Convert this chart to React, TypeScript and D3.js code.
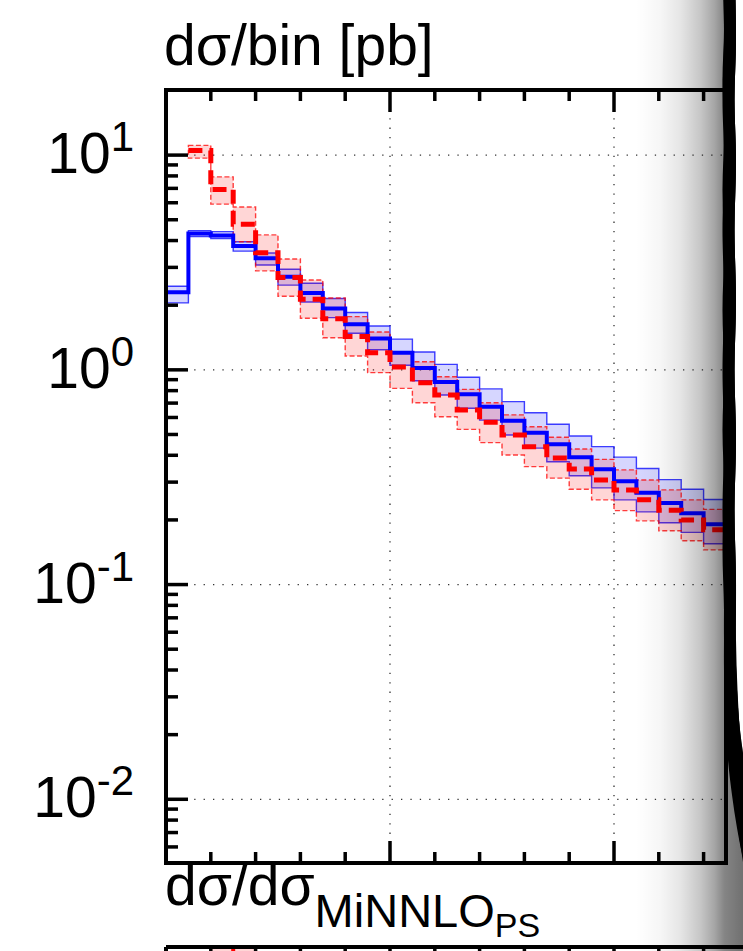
import React from 'react';
import * as d3 from 'd3';

// bin edges of the histogram (x axis units)
const binEdges = [0, 5, 10, 15, 20, 25, 30, 35, 40, 45, 50, 55, 60, 65, 70, 75, 80, 85, 90, 95, 100, 105, 110, 115, 120, 125];

// blue (MiNNLO_PS) central values and band
const blueVal = [2.30, 4.31, 4.22, 3.77, 3.31, 2.71, 2.28, 1.93, 1.63, 1.40, 1.20, 1.02, 0.877, 0.770, 0.673, 0.579, 0.509, 0.450, 0.392, 0.344, 0.303, 0.268, 0.240, 0.215, 0.191];
const blueHi = [2.45, 4.45, 4.40, 3.95, 3.50, 2.94, 2.53, 2.15, 1.85, 1.60, 1.39, 1.21, 1.06, 0.923, 0.815, 0.711, 0.631, 0.558, 0.492, 0.439, 0.392, 0.347, 0.308, 0.278, 0.249];
const blueLo = [2.05, 4.18, 4.09, 3.57, 3.08, 2.48, 2.07, 1.75, 1.48, 1.24, 1.05, 0.889, 0.764, 0.662, 0.583, 0.497, 0.432, 0.373, 0.321, 0.282, 0.248, 0.218, 0.194, 0.175, 0.155];

// red (dashed) central values and band; first bin empty
const redVal = [NaN, 10.5, 6.92, 4.77, 3.51, 2.69, 2.13, 1.73, 1.43, 1.20, 1.03, 0.871, 0.764, 0.650, 0.570, 0.497, 0.438, 0.388, 0.345, 0.307, 0.276, 0.248, 0.222, 0.200, 0.180];
const redHi = [NaN, 11.1, 7.92, 5.73, 4.25, 3.28, 2.62, 2.16, 1.77, 1.50, 1.21, 1.09, 0.929, 0.811, 0.703, 0.617, 0.543, 0.485, 0.428, 0.383, 0.342, 0.307, 0.276, 0.248, 0.224];
const redLo = [NaN, 9.68, 5.91, 3.95, 2.89, 2.20, 1.74, 1.41, 1.16, 0.97, 0.82, 0.703, 0.605, 0.528, 0.458, 0.401, 0.354, 0.313, 0.278, 0.248, 0.221, 0.198, 0.178, 0.160, 0.145];

// axes
const xDomain = [0, 125];
const yDomain = [0.00505, 20.1];
const xMajorTicks = [0, 50, 100];
const xMinorTicks = [10, 20, 30, 40, 60, 70, 80, 90, 110, 120];
const yDecades = [0.01, 0.1, 1, 10];
const yExponents = ['-2', '-1', '0', '1'];

// page-curl decoration outline
const curlLeft: [number, number][] = [[723, -20], [724, 30], [722.5, 80], [724, 130], [722.5, 190], [724, 250], [722.5, 310], [724, 370], [722.5, 430], [724, 490], [722.5, 550], [724, 610], [724, 670], [725.5, 720], [728, 760], [732, 795], [737, 828], [743, 858], [752, 890]];
const curlRight: [number, number][] = [[735, -20], [736, 40], [734.5, 100], [736, 160], [734.5, 230], [736, 300], [734.5, 370], [736, 440], [734.5, 510], [736, 580], [735.5, 640], [737, 690], [740, 730], [746, 770], [756, 810]];
const curlCenter: [number, number][] = [[729, -20], [730, 40], [728.5, 100], [730, 160], [728.5, 230], [730, 300], [728.5, 370], [730, 440], [728.5, 510], [730, 580], [730, 640], [731.5, 690], [734.5, 740], [739.5, 790], [745, 835], [752, 880]];

const FONT = "'Liberation Sans', Arial, Helvetica, sans-serif";

export default function App() {
  const W = 743, H = 951;
  const x = d3.scaleLinear().domain(xDomain).range([166, 726]);
  const y = d3.scaleLog().domain(yDomain).range([863, 90]);
  const top = y(yDomain[1]);
  const bot = y(yDomain[0]);
  const left = x(xDomain[0]);
  const right = x(xDomain[1]);

  type P = { e: number; v: number; lo: number; hi: number };
  const mk = (val: number[], lo: number[], hi: number[]): P[] => {
    const pts: P[] = [];
    val.forEach((v, i) => {
      if (!isNaN(v)) pts.push({ e: binEdges[i], v, lo: lo[i], hi: hi[i] });
    });
    const last = pts[pts.length - 1];
    const idx = binEdges.indexOf(last.e);
    pts.push({ e: binEdges[idx + 1], v: last.v, lo: last.lo, hi: last.hi });
    return pts;
  };
  const bluePts = mk(blueVal, blueLo, blueHi);
  const redPts = mk(redVal, redLo, redHi);

  const line = d3.line<P>().x(d => x(d.e)).y(d => y(d.v)).curve(d3.curveStepAfter);
  const area = d3.area<P>().x(d => x(d.e)).y0(d => y(d.lo)).y1(d => y(d.hi)).curve(d3.curveStepAfter);

  const minorY = y.ticks(40).filter(v => {
    const m = v / Math.pow(10, Math.floor(Math.log10(v) + 1e-9));
    return Math.abs(m - 1) > 1e-6 && v > yDomain[0] && v < 19;
  });

  const smooth = d3.line().curve(d3.curveCatmullRom);
  const leftPath = smooth(curlLeft) || '';
  const rightFwd = smooth(curlRight) || '';
  const rightRev = smooth(curlRight.slice().reverse()) || '';
  const curlShape = leftPath + 'L' + rightRev.slice(1) + 'Z';
  const whiteShape = rightFwd + 'L800,810L800,-20Z';
  const centerPath = smooth(curlCenter) || '';

  return (
    <svg width={W} height={H} style={{ position: 'absolute', left: 0, top: 0, background: '#fff' }} fontFamily={FONT}>
      <defs>
        <linearGradient id="curlGrad" gradientUnits="userSpaceOnUse" x1={600} y1={0} x2={743} y2={0}>
          <stop offset="0" stopColor="#000" stopOpacity={0} />
          <stop offset="0.25" stopColor="#000" stopOpacity={0} />
          <stop offset="0.42" stopColor="#000" stopOpacity={0.035} />
          <stop offset="0.56" stopColor="#000" stopOpacity={0.1} />
          <stop offset="0.70" stopColor="#000" stopOpacity={0.22} />
          <stop offset="0.80" stopColor="#000" stopOpacity={0.35} />
          <stop offset="0.87" stopColor="#000" stopOpacity={0.48} />
          <stop offset="1" stopColor="#000" stopOpacity={0.56} />
        </linearGradient>
        <clipPath id="plotClip">
          <rect x={left} y={top} width={right - left} height={bot - top} />
        </clipPath>
      </defs>
      <rect x={0} y={0} width={W} height={H} fill="#fff" />

      {/* title */}
      <text x={164} y={65} fontSize={57}>dσ/bin [pb]</text>

      {/* grid */}
      <g stroke="#333" strokeWidth={1.3} strokeDasharray="1.3,8.1">
        {yDecades.map(v => (
          <line key={'gy' + v} x1={left} x2={right} y1={y(v)} y2={y(v)} />
        ))}
        {xMajorTicks.filter(v => v > xDomain[0]).map(v => (
          <line key={'gx' + v} x1={x(v)} x2={x(v)} y1={top} y2={bot} />
        ))}
      </g>

      {/* data */}
      <g clipPath="url(#plotClip)">
        <path d={area(bluePts) || ''} fill="rgba(0,0,255,0.16)" stroke="rgba(0,0,255,0.75)" strokeWidth={1.4} />
        <path d={area(redPts) || ''} fill="rgba(255,0,0,0.16)" stroke="rgba(255,0,0,0.75)" strokeWidth={1.4} strokeDasharray="5,2.5" />
        <path d={line(bluePts) || ''} fill="none" stroke="#0000ff" strokeWidth={4} />
        <path d={line(redPts) || ''} fill="none" stroke="#ff0000" strokeWidth={5} strokeDasharray="14,7" />
      </g>

      {/* ticks */}
      <g stroke="#000" strokeWidth={3.5}>
        {yDecades.map(v => (
          <line key={'ty' + v} x1={left} x2={left + 22} y1={y(v)} y2={y(v)} />
        ))}
        {minorY.map(v => (
          <line key={'tym' + v} x1={left} x2={left + 12} y1={y(v)} y2={y(v)} />
        ))}
        {xMajorTicks.map(v => (
          <g key={'tx' + v}>
            <line x1={x(v)} x2={x(v)} y1={top} y2={top + 22} />
            <line x1={x(v)} x2={x(v)} y1={bot} y2={bot - 22} />
          </g>
        ))}
        {xMinorTicks.map(v => (
          <g key={'txm' + v}>
            <line x1={x(v)} x2={x(v)} y1={top} y2={top + 11} />
            <line x1={x(v)} x2={x(v)} y1={bot} y2={bot - 11} />
          </g>
        ))}
      </g>
      {/* frame */}
      <rect x={left} y={top} width={right - left} height={bot - top} fill="none" stroke="#000" strokeWidth={4} />

      {/* y labels */}
      {yDecades.map((v, i) => (
        <text key={'ly' + v} x={134} y={y(v) + 18} fontSize={57} textAnchor="end">
          10<tspan fontSize={42} dy={-22}>{yExponents[i]}</tspan>
        </text>
      ))}

      {/* ratio label */}
      <text x={165} y={905} fontSize={57}>
        dσ/dσ<tspan fontSize={47} dy={22}>MiNNLO</tspan><tspan fontSize={34} dy={10}>PS</tspan>
      </text>

      {/* ratio panel top edge */}
      <rect x={x(10)} y={947} width={x(20) - x(10)} height={6} fill="rgba(255,0,0,0.16)" />
      <line x1={x(15)} x2={x(15)} y1={947} y2={951} stroke="#ff0000" strokeWidth={4} />
      <line x1={left} x2={right + 30} y1={947} y2={947} stroke="#000" strokeWidth={4} />
      <g stroke="#000" strokeWidth={3.5}>
        {[...xMajorTicks, ...xMinorTicks].map(v => (
          <line key={'rt' + v} x1={x(v)} x2={x(v)} y1={947} y2={955} />
        ))}
      </g>
      <line x1={left} x2={left} y1={947} y2={955} stroke="#000" strokeWidth={4} />

      {/* page curl */}
      <rect x={600} y={0} width={143} height={H} fill="url(#curlGrad)" />
      <path d={whiteShape} fill="#fff" />
      <path d={curlShape} fill="#000" />
      <path d={centerPath} fill="none" stroke="#000" strokeWidth={12} />
    </svg>
  );
}
